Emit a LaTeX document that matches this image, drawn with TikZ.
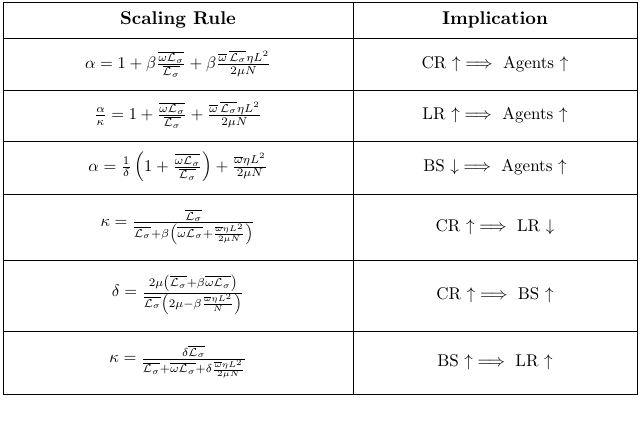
\documentclass[tikz,border=0pt]{standalone}
\usepackage{amsmath}
\begin{document}
\begin{tikzpicture}[x=1pt,y=-1pt,line width=0.9pt,
  cell/.style={inner sep=0pt,scale=1.7,transform shape},
  head/.style={inner sep=0pt,scale=1.85,transform shape},
  eq/.style={inner sep=0pt,scale=1.65,transform shape}]
\useasboundingbox (0,0) rectangle (640,425);
\newcommand{\Ls}{\mathcal{L}_\sigma}
\coordinate (tl) at (3,2);
\coordinate (br) at (637,394);
\draw (tl) rectangle (br);
\draw (353,2) -- (353,394);
\foreach \y in {38,90,141,194,260,331} \draw (3,\y) -- (637,\y);
\node[head] (h1) at (178,20) {\textbf{Scaling Rule}};
\node[head] (h2) at (495,20) {\textbf{Implication}};
\node[eq] (r1) at (178,64) {$\alpha = 1+\beta\frac{\overline{\omega\Ls}}{\overline{\Ls}}+\beta\frac{\overline{\omega}\,\overline{\Ls}\eta L^2}{2\mu N}$};
\node[cell] (i1) at (495,64) {CR $\uparrow\implies$ Agents $\uparrow$};
\node[eq] (r2) at (178,115) {$\frac{\alpha}{\kappa} = 1+\frac{\overline{\omega\Ls}}{\overline{\Ls}}+\frac{\overline{\omega}\,\overline{\Ls}\eta L^2}{2\mu N}$};
\node[cell] (i2) at (495,115) {LR $\uparrow\implies$ Agents $\uparrow$};
\node[eq] (r3) at (178,167) {$\alpha = \frac{1}{\delta}\left(1+\frac{\overline{\omega\Ls}}{\overline{\Ls}}\right)+\frac{\overline{\omega}\eta L^2}{2\mu N}$};
\node[cell] (i3) at (495,167) {BS $\downarrow\implies$ Agents $\uparrow$};
\node[eq] (r4) at (178,227) {$\kappa = \frac{\overline{\Ls}}{\overline{\Ls}+\beta\left(\overline{\omega\Ls}+\frac{\overline{\omega}\eta L^2}{2\mu N}\right)}$};
\node[cell] (i4) at (495,227) {CR $\uparrow\implies$ LR $\downarrow$};
\node[eq] (r5) at (178,295) {$\delta = \frac{2\mu\left(\overline{\Ls}+\beta\overline{\omega\Ls}\right)}{\overline{\Ls}\left(2\mu-\beta\frac{\overline{\omega}\eta L^2}{N}\right)}$};
\node[cell] (i5) at (495,295) {CR $\uparrow\implies$ BS $\uparrow$};
\node[eq] (r6) at (178,362) {$\kappa = \frac{\delta\overline{\Ls}}{\overline{\Ls}+\overline{\omega\Ls}+\delta\frac{\overline{\omega}\eta L^2}{2\mu N}}$};
\node[cell] (i6) at (495,362) {BS $\uparrow\implies$ LR $\uparrow$};
\end{tikzpicture}
\end{document}
